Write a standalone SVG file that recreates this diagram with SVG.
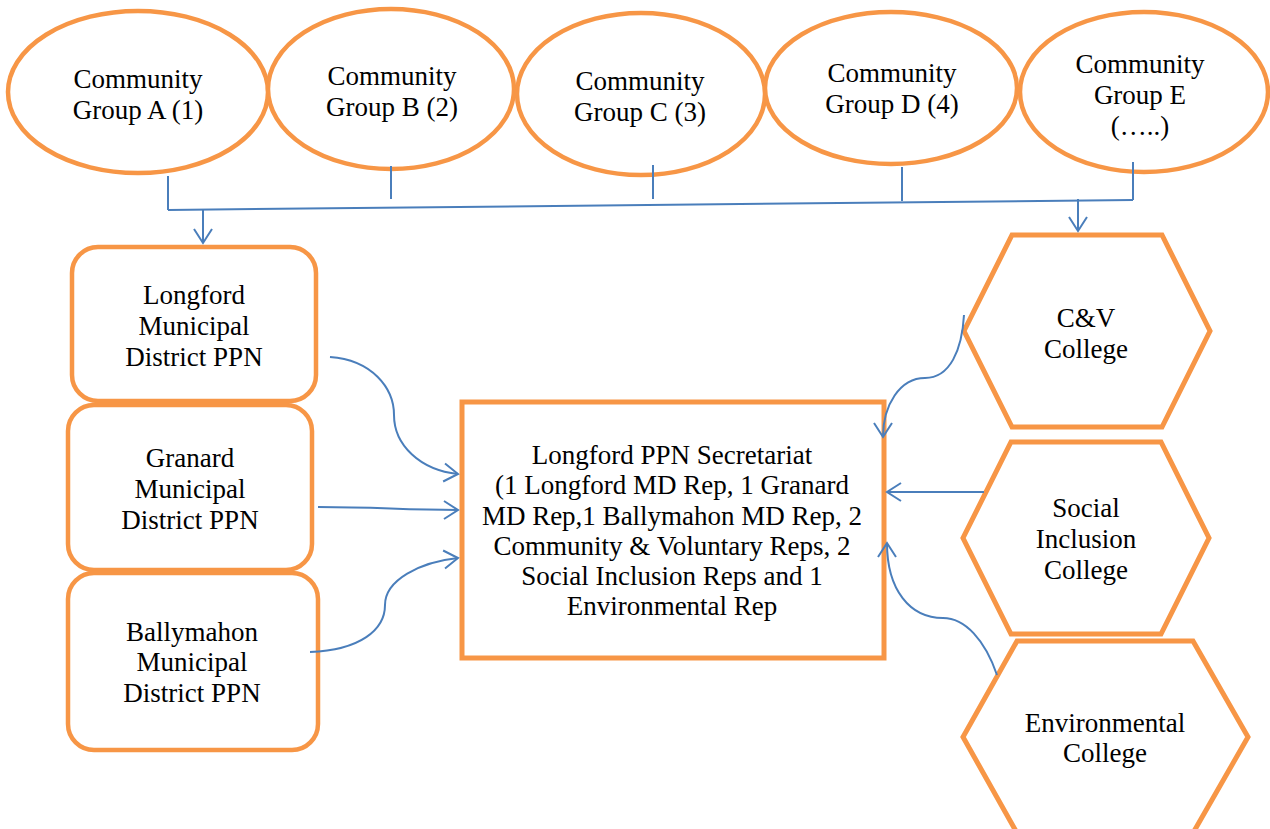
<svg xmlns="http://www.w3.org/2000/svg" width="1270" height="829" viewBox="0 0 1270 829">
<style>
.shape{fill:#fff;stroke:#F79646;stroke-width:4.5}
text{font-family:'Liberation Serif','Times New Roman',Times,serif;font-size:27px;fill:#000;text-anchor:middle}
.c{fill:none;stroke:#4A7EBB;stroke-width:2}
</style>
<defs>
<marker id="arr" markerUnits="userSpaceOnUse" markerWidth="18" markerHeight="22" refX="15" refY="10" orient="auto" viewBox="0 0 18 20">
<path d="M1,1 L15,10 L1,19" fill="none" stroke="#4A7EBB" stroke-width="2"/>
</marker>
</defs>
<rect width="1270" height="829" fill="#fff"/>

<g id="groupA"><ellipse class="shape" cx="138" cy="92" rx="130" ry="81"/>
<text x="138" y="88">Community</text><text x="138" y="119">Group A (1)</text></g>
<g id="groupB"><ellipse class="shape" cx="391" cy="89" rx="123" ry="80"/>
<text x="392" y="85">Community</text><text x="392" y="116">Group B (2)</text></g>
<g id="groupC"><ellipse class="shape" cx="641" cy="94" rx="124" ry="81"/>
<text x="640" y="90">Community</text><text x="640" y="121">Group C (3)</text></g>
<g id="groupD"><ellipse class="shape" cx="891" cy="88" rx="126" ry="76"/>
<text x="892" y="82">Community</text><text x="892" y="113">Group D (4)</text></g>
<g id="groupE"><ellipse class="shape" cx="1144" cy="92" rx="124" ry="80"/>
<text x="1140" y="73">Community</text><text x="1140" y="104">Group E</text><text x="1140" y="135">(…..)</text></g>

<g id="longfordMD"><rect class="shape" x="72" y="247" width="244" height="154" rx="26"/>
<text x="194" y="304">Longford</text><text x="194" y="335">Municipal</text><text x="194" y="366">District PPN</text></g>
<g id="granardMD"><rect class="shape" x="68" y="405" width="244" height="165" rx="26"/>
<text x="190" y="467">Granard</text><text x="190" y="498">Municipal</text><text x="190" y="529">District PPN</text></g>
<g id="ballymahonMD"><rect class="shape" x="68" y="573" width="250" height="177" rx="26"/>
<text x="192" y="641">Ballymahon</text><text x="192" y="671">Municipal</text><text x="192" y="702">District PPN</text></g>

<g id="secretariat"><rect class="shape" x="462" y="402" width="422" height="256" style="stroke-width:5"/>
<text x="672" y="464">Longford PPN Secretariat</text>
<text x="672" y="494">(1 Longford MD Rep, 1 Granard</text>
<text x="672" y="525">MD Rep,1 Ballymahon MD Rep, 2</text>
<text x="672" y="555">Community &amp; Voluntary Reps, 2</text>
<text x="672" y="585">Social Inclusion Reps and 1</text>
<text x="672" y="615">Environmental Rep</text></g>

<g id="cvCollege"><polygon class="shape" points="1012,235 1162,235 1210,331 1162,427 1012,427 964,331" style="stroke-width:5"/>
<text x="1086" y="327">C&amp;V</text><text x="1086" y="358">College</text></g>
<g id="socialCollege"><polygon class="shape" points="1011,442 1161,442 1209,538 1161,634 1011,634 963,538" style="stroke-width:5"/>
<text x="1086" y="517">Social</text><text x="1086" y="548">Inclusion</text><text x="1086" y="579">College</text></g>
<g id="envCollege"><polygon class="shape" points="1017,641 1193,641 1248,737 1193,833 1017,833 963,737" style="stroke-width:5"/>
<text x="1105" y="732">Environmental</text><text x="1105" y="762">College</text></g>

<g id="connectors">
<line class="c" x1="168" y1="176" x2="168" y2="210"/>
<line class="c" x1="391" y1="166" x2="391" y2="199"/>
<line class="c" x1="653" y1="165" x2="653" y2="199"/>
<line class="c" x1="902" y1="167" x2="902" y2="201"/>
<line class="c" x1="1133" y1="162" x2="1133" y2="200"/>
<line class="c" x1="168" y1="210" x2="1133" y2="200"/>
<line class="c" x1="203" y1="210" x2="203" y2="243" marker-end="url(#arr)"/>
<line class="c" x1="1078" y1="199" x2="1078" y2="231" marker-end="url(#arr)"/>
<path class="c" d="M330,357 C372,360 394,388 394,415 C394,445 420,470 458,474" marker-end="url(#arr)"/>
<path class="c" d="M318,507 C380,507 400,510 458,510" marker-end="url(#arr)"/>
<path class="c" d="M310,652 C360,650 385,630 385,605 C385,580 420,562 458,558" marker-end="url(#arr)"/>
<path class="c" d="M964,315 C962,350 950,378 925,378 C900,378 883,405 883,437" marker-end="url(#arr)"/>
<line class="c" x1="984" y1="492" x2="887" y2="492" marker-end="url(#arr)"/>
<path class="c" d="M997,675 C985,640 965,618 943,618 C910,618 887,590 887,543" marker-end="url(#arr)"/>
</g>
</svg>
